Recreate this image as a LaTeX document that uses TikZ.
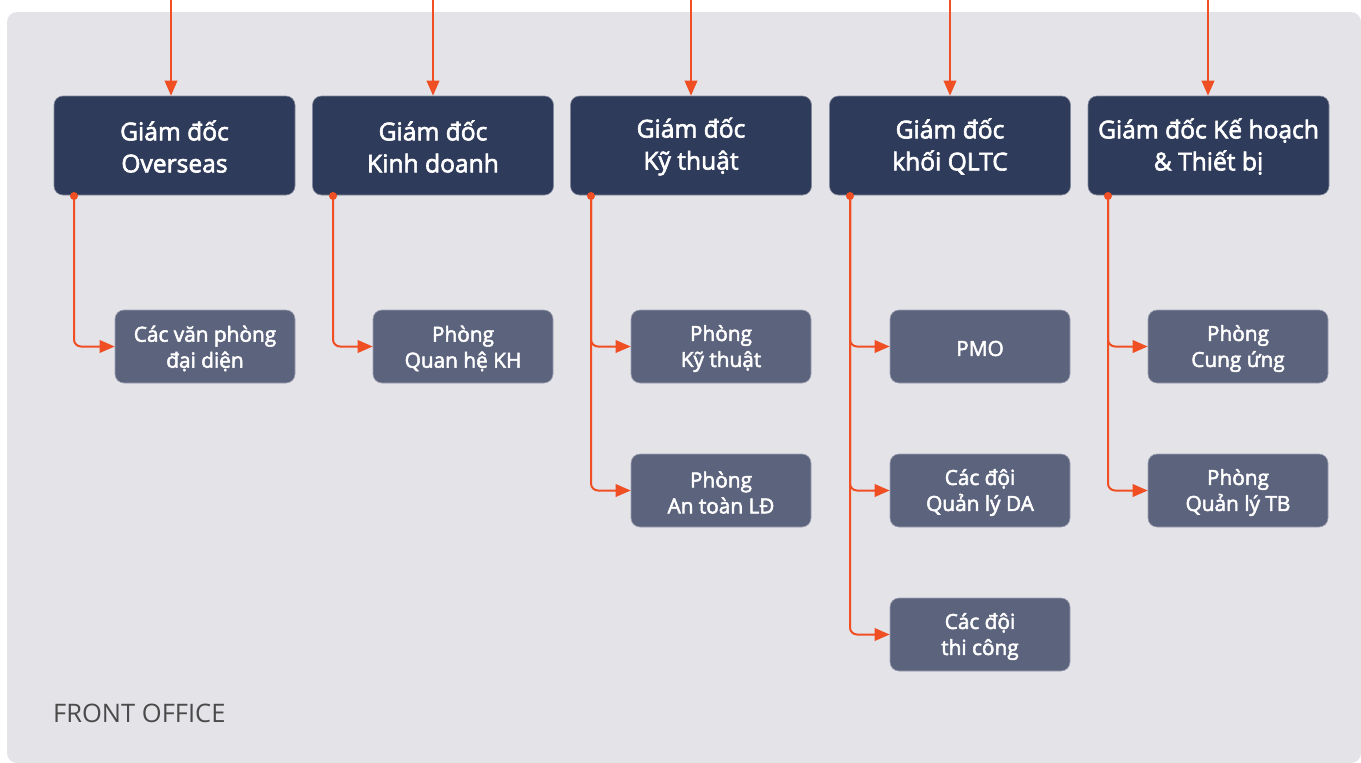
\documentclass[tikz,border=0pt]{standalone}
\usepackage{fontspec}
\setmainfont{Open Sans}
\newfontfamily\semib{Open Sans}[FakeBold=2.5]
\usetikzlibrary{arrows.meta}
\definecolor{panel}{HTML}{E4E3E8}
\definecolor{dirc}{HTML}{2F3B5A}
\definecolor{subc}{HTML}{5C637D}
\definecolor{orng}{HTML}{F04E23}
\definecolor{txtg}{HTML}{4A4A4A}
\tikzset{
  x=1pt, y=-1pt,
  dirbox/.style={fill=dirc, draw=dirc!60!white, line width=0.6pt, rounded corners=9pt, minimum width=241pt, minimum height=99pt, inner sep=0pt},
  dirtext/.style={text=white, align=center, inner sep=0pt, yshift=-1pt, font=\semib\fontsize{24.6}{32}\selectfont},
  subbox/.style={fill=subc, draw=subc!60!white, line width=0.6pt, rounded corners=9pt, minimum width=180pt, minimum height=73pt, inner sep=0pt},
  subtext/.style={text=white, align=center, inner sep=0pt, yshift=-2pt, font=\semib\fontsize{20.8}{26}\selectfont},
  conn/.style={draw=orng, line width=2pt, -{Triangle[length=15pt,width=12.5pt]}},
  elbow/.style={conn, rounded corners=7pt},
  dot/.style={circle, fill=orng, inner sep=0pt, minimum size=8pt}
}
\begin{document}
\begin{tikzpicture}
\useasboundingbox (0,0) rectangle (1361,763);
\fill[white] (0,0) rectangle (1361,763);
\fill[panel, rounded corners=10pt] (7,12) rectangle (1361,763);
\node[anchor=west, text=txtg, inner sep=0pt, font=\fontsize{25.5}{30}\selectfont] (fo) at (53,713) {FRONT OFFICE};
% directors
\node[dirbox] (d1) at (174.5,145.5) {};
\node[dirbox] (d2) at (433,145.5) {};
\node[dirbox] (d3) at (691,145.5) {};
\node[dirbox] (d4) at (950,145.5) {};
\node[dirbox] (d5) at (1208.5,145.5) {};
\node[dirtext] (d1t) at (d1) {Giám đốc\\Overseas};
\node[dirtext] (d2t) at (d2) {Giám đốc\\Kinh doanh};
\node[dirtext] (d3t) at (d3) {Giám đốc\\Kỹ thuật};
\node[dirtext] (d4t) at (d4) {Giám đốc\\khối QLTC};
\node[dirtext] (d5t) at (d5) {Giám đốc Kế hoạch\\\& Thiết bị};
% top entries
\coordinate (t1) at (171,0);
\coordinate (t2) at (433,0);
\coordinate (t3) at (691,0);
\coordinate (t4) at (950,0);
\coordinate (t5) at (1208,0);
\foreach \i in {1,...,5} {\draw[conn] (t\i) -- (t\i |- d\i.north);}
% sub boxes
\node[subbox] (s11) at (205,346.5) {};
\node[subbox] (s21) at (463,346.5) {};
\node[subbox] (s31) at (721,346.5) {};
\node[subbox] (s32) at (721,490.5) {};
\node[subbox] (s41) at (980,346.5) {};
\node[subbox] (s42) at (980,490.5) {};
\node[subbox] (s43) at (980,634.5) {};
\node[subbox] (s51) at (1238,346.5) {};
\node[subbox] (s52) at (1238,490.5) {};
\node[subtext] (s11t) at (s11) {Các văn phòng\\đại diện};
\node[subtext] (s21t) at (s21) {Phòng\\Quan hệ KH};
\node[subtext] (s31t) at (s31) {Phòng\\Kỹ thuật};
\node[subtext] (s32t) at (s32) {Phòng\\An toàn LĐ};
\node[subtext] (s41t) at (s41) {PMO};
\node[subtext] (s42t) at (s42) {Các đội\\Quản lý DA};
\node[subtext] (s43t) at (s43) {Các đội\\thi công};
\node[subtext] (s51t) at (s51) {Phòng\\Cung ứng};
\node[subtext] (s52t) at (s52) {Phòng\\Quản lý TB};
% start points
\coordinate (o1) at (74,196);
\coordinate (o2) at (333,196);
\coordinate (o3) at (591,196);
\coordinate (o4) at (850,196);
\coordinate (o5) at (1108,196);
\draw[elbow] (o1) |- (s11.west);
\draw[elbow] (o2) |- (s21.west);
\draw[elbow] (o3) |- (s31.west);
\draw[elbow] (o3) |- (s32.west);
\draw[elbow] (o4) |- (s41.west);
\draw[elbow] (o4) |- (s42.west);
\draw[elbow] (o4) |- (s43.west);
\draw[elbow] (o5) |- (s51.west);
\draw[elbow] (o5) |- (s52.west);
\foreach \i in {1,...,5} {\node[dot] at (o\i) {};}
\end{tikzpicture}
\end{document}
